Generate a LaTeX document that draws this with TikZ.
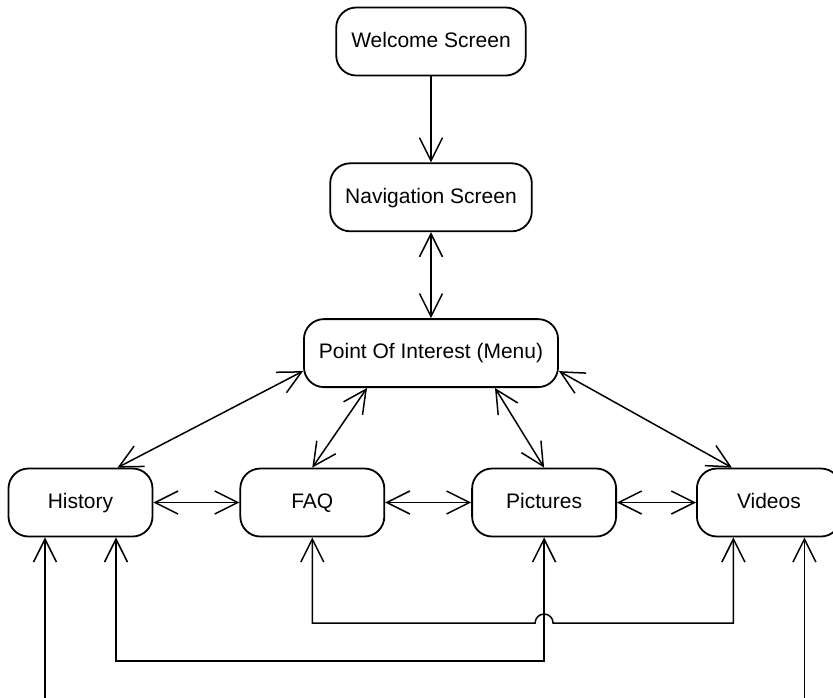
\documentclass[tikz,border=0pt]{standalone}
\usepackage{fontspec}
\setmainfont{Liberation Sans}
\usetikzlibrary{positioning,arrows.meta}

\begin{document}
\begin{tikzpicture}[x=0.5pt, y=-0.5pt, node distance=43pt, line width=0.75pt,
    >={Straight Barb[length=11.5pt, width=11.5pt]},
    screen/.style={draw, line width=0.9pt, rounded corners=10pt, minimum height=34pt,
      inner xsep=7.5pt, text height=8pt, text depth=2.2pt, font=\fontsize{10.5}{12}\selectfont},
    tab/.style={screen, minimum width=72pt}]
  \useasboundingbox (0,0) rectangle (833,697);
  \node[screen] (welcome) at (431,41.5) {Welcome Screen};
  \node[screen] (nav) [below=of welcome] {Navigation Screen};
  \node[screen] (poi) [below=of nav] {Point Of Interest (Menu)};
  \node[tab] (history) at (80.5,502.5) {History};
  \node[tab] (faq) [right=of history] {FAQ};
  \node[tab] (pictures) [right=of faq] {Pictures};
  \node[tab] (videos) [right=39.5pt of pictures] {Videos};
  % lanes below the tabs
  \coordinate (lane1) at (0,623);
  \coordinate (lane2) at (0,661);
  \coordinate (lane3) at (0,740);
  \coordinate (hop) at (lane1 -| pictures.south);
  \coordinate (vidL) at ([xshift=-17.75pt]videos.south);
  \coordinate (vidR) at ([xshift=17.75pt]videos.south);
  \path[->] (welcome) edge (nav);
  \path[<->]
    (nav) edge (poi)
    ([yshift=-9pt]poi.west) edge ([xshift=18.5pt]history.north)
    ([xshift=-32pt]poi.south) edge (faq.north)
    ([xshift=32pt]poi.south) edge (pictures.north)
    ([yshift=-9pt]poi.east) edge ([xshift=-18.5pt]videos.north)
    (history) edge (faq)
    (faq) edge (pictures)
    (pictures) edge (videos);
  \draw[<->] (faq.south) |- ([xshift=-4.5pt]hop)
    arc[start angle=180, end angle=0, radius=4.5pt] -| (vidL);
  \draw[<->] ([xshift=17.75pt]history.south) |- (lane2 -| pictures.south) -- (pictures.south);
  \draw[<->] ([xshift=-17.75pt]history.south) |- (lane3 -| vidR) -- (vidR);
\end{tikzpicture}
\end{document}
